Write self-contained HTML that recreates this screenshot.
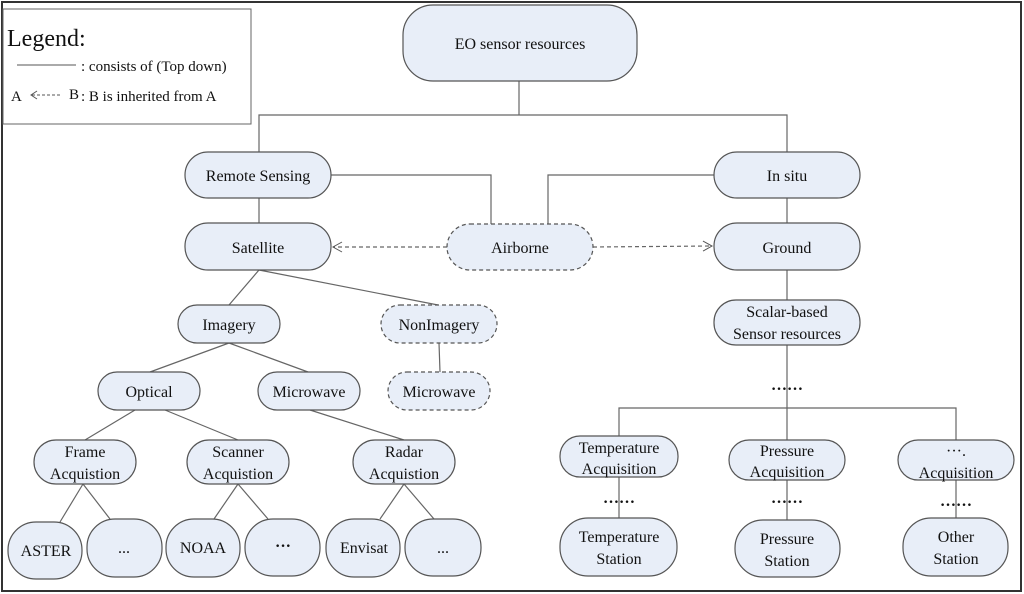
<!DOCTYPE html>
<html><head><meta charset="utf-8"><style>
html,body{margin:0;padding:0;background:#fff;}
svg{display:block;}
text{font-family:"Liberation Serif",serif;fill:#111;}
</style></head><body>
<svg width="1024" height="594" viewBox="0 0 1024 594" xmlns="http://www.w3.org/2000/svg">
<defs>
<marker id="ar" markerWidth="12" markerHeight="12" refX="10" refY="6" orient="auto" markerUnits="userSpaceOnUse">
<path d="M1,1 L10,6 L1,11" fill="none" stroke="#555" stroke-width="1"/>
</marker>
</defs>
<rect x="2" y="2" width="1019" height="589" fill="#fff" stroke="#333" stroke-width="2"/>
<!-- legend -->
<rect x="3" y="9" width="248" height="115" fill="#fff" stroke="#666" stroke-width="1"/>
<text x="7" y="46" font-size="24">Legend:</text>
<line x1="17" y1="65" x2="76" y2="65" stroke="#555"/>
<text x="81" y="71" font-size="15">: consists of (Top down)</text>
<text x="11" y="101" font-size="15">A</text>
<line x1="32" y1="95" x2="60" y2="95" stroke="#555" stroke-dasharray="3,2" marker-end="url(#ar2)"/>
<path d="M37,91 L31,95 L37,99" fill="none" stroke="#555"/>
<text x="69" y="99" font-size="15">B</text>
<text x="81" y="101" font-size="15">: B is inherited from A</text>

<g stroke="#666" stroke-width="1.2" fill="none">
<!-- connectors -->
<path d="M519,81 V115 M259,152 V115 H787 V152"/>
<path d="M331,175 H491 V224 M714,175 H548 V224"/>
<path d="M259,198 V223 M787,198 V223 M787,270 V300 M787,345 V440"/>
<path d="M259,270 L229,305 M259,270 L438,305 M439,343 L440,372"/>
<path d="M229,343 L150,372 M229,343 L308,372"/>
<path d="M135,410 L85,440 M165,410 L238,440 M310,410 L404,440"/>
<path d="M83,484 L60,522 M83,484 L110,519 M238,484 L214,519 M238,484 L268,519 M404,484 L380,519 M404,484 L434,519"/>
<path d="M619,436 V408 H956 V440 M619,477 V518 M787,480 V520 M956,480 V518"/>
</g>
<g stroke="#666" stroke-width="1.2" fill="none" stroke-dasharray="4,3">
<line x1="447" y1="247" x2="333" y2="247" marker-end="url(#ar)"/>
<line x1="593" y1="247" x2="712" y2="246" marker-end="url(#ar)"/>
</g>

<g fill="#e8eef8" stroke="#555" stroke-width="1.2">
<rect x="403" y="5" width="234" height="76" rx="30"/>
<rect x="185" y="152" width="146" height="46" rx="23"/>
<rect x="714" y="152" width="146" height="46" rx="23"/>
<rect x="185" y="223" width="146" height="47" rx="23"/>
<rect x="714" y="223" width="146" height="47" rx="23"/>
<rect x="447" y="224" width="146" height="46" rx="23" stroke-dasharray="4,3"/>
<rect x="178" y="305" width="102" height="38" rx="19"/>
<rect x="381" y="305" width="116" height="38" rx="19" stroke-dasharray="4,3"/>
<rect x="388" y="372" width="102" height="38" rx="19" stroke-dasharray="4,3"/>
<rect x="98" y="372" width="102" height="38" rx="19"/>
<rect x="258" y="372" width="102" height="38" rx="19"/>
<rect x="34" y="440" width="102" height="44" rx="22"/>
<rect x="187" y="440" width="102" height="44" rx="22"/>
<rect x="353" y="440" width="102" height="44" rx="22"/>
<rect x="8" y="522" width="74" height="57" rx="28"/>
<rect x="87" y="519" width="75" height="58" rx="28"/>
<rect x="166" y="519" width="74" height="58" rx="28"/>
<rect x="245" y="519" width="75" height="57" rx="28"/>
<rect x="326" y="519" width="74" height="58" rx="28"/>
<rect x="405" y="519" width="76" height="57" rx="28"/>
<rect x="714" y="300" width="146" height="45" rx="22"/>
<rect x="560" y="436" width="118" height="41" rx="20"/>
<rect x="729" y="440" width="116" height="40" rx="20"/>
<rect x="898" y="440" width="116" height="40" rx="20"/>
<rect x="560" y="518" width="117" height="58" rx="28"/>
<rect x="735" y="520" width="105" height="57" rx="28"/>
<rect x="903" y="518" width="105" height="58" rx="28"/>
</g>

<g font-size="16" text-anchor="middle">
<text x="520" y="49">EO sensor resources</text>
<text x="258" y="181">Remote Sensing</text>
<text x="787" y="181">In situ</text>
<text x="258" y="253">Satellite</text>
<text x="520" y="253">Airborne</text>
<text x="787" y="253">Ground</text>
<text x="229" y="330">Imagery</text>
<text x="439" y="330">NonImagery</text>
<text x="149" y="397">Optical</text>
<text x="309" y="397">Microwave</text>
<text x="439" y="397">Microwave</text>
<text x="85" y="457">Frame</text><text x="85" y="479">Acquistion</text>
<text x="238" y="457">Scanner</text><text x="238" y="479">Acquistion</text>
<text x="404" y="457">Radar</text><text x="404" y="479">Acquistion</text>
<text x="46" y="556">ASTER</text>
<text x="124" y="553">...</text>
<text x="203" y="553">NOAA</text>
<text x="283" y="551" font-weight="bold">···</text>
<text x="364" y="553">Envisat</text>
<text x="443" y="553">...</text>
<text x="787" y="317">Scalar-based</text><text x="787" y="339">Sensor resources</text>
<text x="787" y="390" font-weight="bold">……</text>
<text x="619" y="453">Temperature</text><text x="619" y="474">Acquisition</text>
<text x="787" y="456">Pressure</text><text x="787" y="477">Acquisition</text>
<text x="956" y="456">···.</text><text x="956" y="478">Acquisition</text>
<text x="619" y="503" font-weight="bold">……</text>
<text x="787" y="503" font-weight="bold">……</text>
<text x="956" y="506" font-weight="bold">……</text>
<text x="619" y="542">Temperature</text><text x="619" y="564">Station</text>
<text x="787" y="544">Pressure</text><text x="787" y="566">Station</text>
<text x="956" y="542">Other</text><text x="956" y="564">Station</text>
</g>
</svg>
</body></html>
